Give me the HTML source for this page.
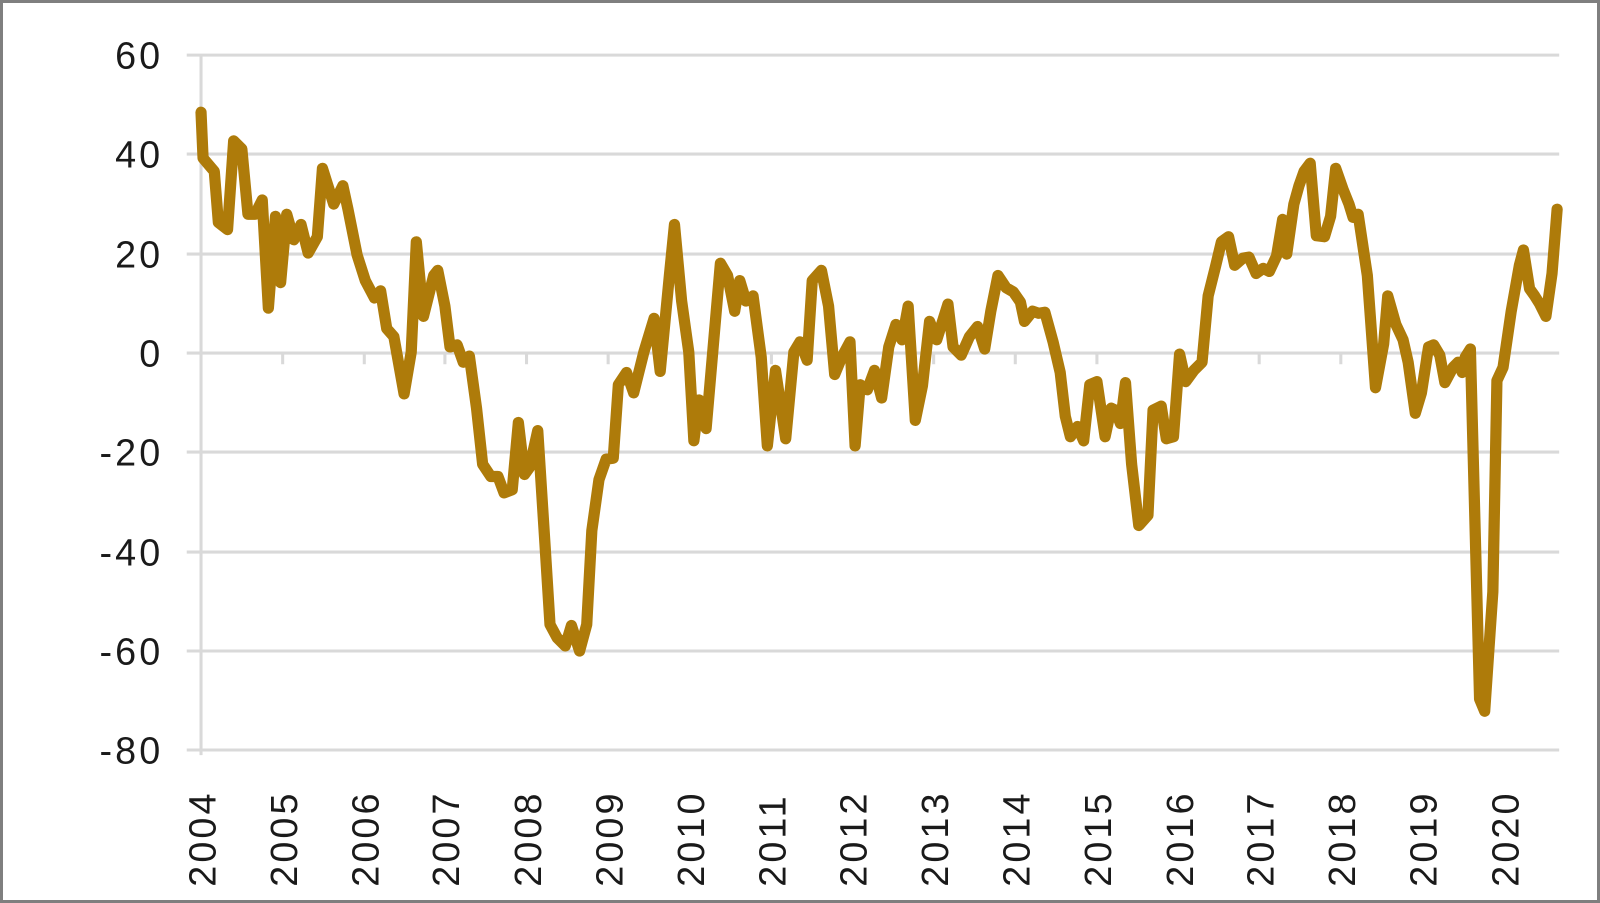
<!DOCTYPE html>
<html><head><style>
body{margin:0;background:#fff}
svg{display:block}
text{font-family:"Liberation Sans",sans-serif;font-size:37px;fill:#1a1a1a;letter-spacing:3px}
</style></head><body>
<svg width="1600" height="903" viewBox="0 0 1600 903">
<rect x="1.5" y="1.5" width="1597" height="900" fill="#fff" stroke="#7f7f7f" stroke-width="3"/>
<g transform="scale(1.0204)">
<g stroke="#d9d9d9" stroke-width="3">
<line x1="183" x2="1528" y1="54" y2="54"/>
<line x1="183" x2="1528" y1="151" y2="151"/>
<line x1="183" x2="1528" y1="249" y2="249"/>
<line x1="183" x2="1528" y1="346" y2="346"/>
<line x1="183" x2="1528" y1="443" y2="443"/>
<line x1="183" x2="1528" y1="541" y2="541"/>
<line x1="183" x2="1528" y1="638" y2="638"/>
<line x1="183" x2="1528" y1="735" y2="735"/>
<line x1="197" x2="197" y1="54" y2="740"/>
<path d="M277 346v11M357 346v11M436 346v11M516 346v11M596 346v11M676 346v11M756 346v11M835 346v11M915 346v11M995 346v11M1075 346v11M1155 346v11M1234 346v11M1314 346v11M1394 346v11M1474 346v11"/>
</g>
<g text-anchor="end">
<text x="160" y="67">60</text><text x="160" y="164">40</text><text x="160" y="262">20</text>
<text x="160" y="359">0</text><text x="160" y="456">-20</text><text x="160" y="554">-40</text>
<text x="160" y="651">-60</text><text x="160" y="748">-80</text>
</g>
<g>
<text transform="translate(211,869) rotate(-90)">2004</text>
<text transform="translate(291,869) rotate(-90)">2005</text>
<text transform="translate(371,869) rotate(-90)">2006</text>
<text transform="translate(450,869) rotate(-90)">2007</text>
<text transform="translate(530,869) rotate(-90)">2008</text>
<text transform="translate(610,869) rotate(-90)">2009</text>
<text transform="translate(690,869) rotate(-90)">2010</text>
<text transform="translate(770,869) rotate(-90)">2011</text>
<text transform="translate(849,869) rotate(-90)">2012</text>
<text transform="translate(929,869) rotate(-90)">2013</text>
<text transform="translate(1009,869) rotate(-90)">2014</text>
<text transform="translate(1089,869) rotate(-90)">2015</text>
<text transform="translate(1169,869) rotate(-90)">2016</text>
<text transform="translate(1248,869) rotate(-90)">2017</text>
<text transform="translate(1328,869) rotate(-90)">2018</text>
<text transform="translate(1408,869) rotate(-90)">2019</text>
<text transform="translate(1488,869) rotate(-90)">2020</text>
</g>
<polyline fill="none" stroke="#ae7b0a" stroke-width="11" stroke-linejoin="round" stroke-linecap="round" points="197,110 199,155 210,168 214,218 223,225 229,138 237,146 243,210 250,210 257,196 263,302 270,212 275,277 281,210 288,235 295,220 302,248 311,232 316,165 327,200 336,182 341,205 350,250 358,275 367,292 373,285 379,322 386,330 396,386 403,345 408,237 415,310 425,270 429,265 436,300 441,340 448,338 454,355 460,349 467,400 473,455 481,467 488,467 494,483 502,480 508,414 514,465 519,458 527,422 534,532 539,612 546,625 554,633 560,613 568,638 575,612 580,520 587,470 594,450 601,449 606,377 614,365 621,385 631,345 641,312 647,364 656,270 661,220 668,295 675,345 680,432 685,392 692,420 706,258 713,270 720,305 725,275 731,295 738,290 746,350 752,437 760,363 770,430 778,345 784,335 791,353 796,275 805,265 812,300 818,367 825,350 833,335 838,437 843,377 850,382 857,363 864,390 871,340 878,318 884,333 890,300 897,412 904,378 911,315 918,333 929,298 934,340 942,348 950,330 958,320 965,342 971,305 978,270 986,282 993,286 1000,296 1004,315 1012,305 1018,307 1024,306 1032,335 1039,365 1044,408 1049,428 1056,418 1062,432 1068,377 1075,374 1083,428 1089,400 1093,402 1098,415 1103,375 1109,455 1116,515 1125,505 1130,402 1138,398 1143,430 1150,428 1156,347 1162,374 1170,363 1178,355 1184,290 1191,262 1197,237 1204,232 1210,260 1218,253 1224,252 1231,268 1238,263 1244,266 1251,251 1257,215 1261,249 1268,200 1273,182 1278,168 1284,160 1290,231 1298,232 1304,212 1309,165 1316,185 1322,200 1326,213 1331,210 1340,270 1348,380 1356,337 1360,290 1368,318 1375,333 1380,355 1387,405 1393,385 1400,340 1405,338 1411,348 1416,375 1424,360 1429,355 1433,365 1436,350 1441,342 1450,685 1455,697 1463,580 1467,373 1473,360 1481,305 1489,260 1493,245 1499,283 1504,290 1509,298 1515,310 1521,268 1526,205"/>
</g>
</svg>
</body></html>
